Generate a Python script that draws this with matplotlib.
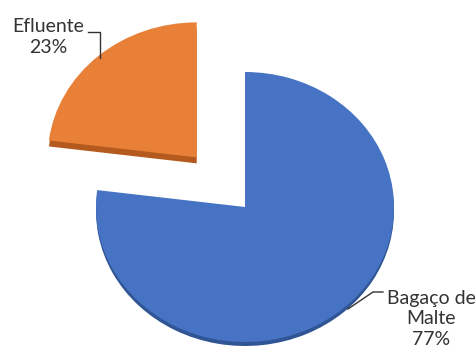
import matplotlib.pyplot as plt

# dados
labels = ['Efluente', 'Bagaço de\nMalte']
values = [23, 77]
colors = ['#E98038', '#4773C4']
side_colors = ['#B45A1E', '#2F5594']
explode = [0.49, 0.0]

# geometria (pixels da imagem original)
RX, RY = 149.0, 135.0
CX, CY = 245.0, 207.0
W, H = 477, 351


def px(x, y):
    # pixel -> coordenadas do eixo (pizza de raio 1)
    return (x - CX) / RX, (CY - y) / RY


fig = plt.figure(figsize=(W / 100, H / 100), dpi=100)
ax = fig.add_axes([0, 0, 1, 1])

# "espessura" 3D: copia escura deslocada para baixo (uma fatia por vez)
for i, d in enumerate([6, 4]):
    cols = ['none'] * len(values)
    cols[i] = side_colors[i]
    ax.pie(values, colors=cols, explode=explode, startangle=90,
           counterclock=True, radius=1, center=(0, -d / RY), frame=True,
           wedgeprops=dict(linewidth=0))
ax.pie(values, colors=colors, explode=explode, startangle=90,
       counterclock=True, radius=1, center=(0, 0), frame=True,
       wedgeprops=dict(linewidth=0))
ax.set_xlim(px(0, 0)[0], px(W, 0)[0])
ax.set_ylim(px(0, H)[1], px(0, 0)[1])
ax.set_aspect('auto')
ax.axis('off')

font = ['Lato', 'DejaVu Sans']
txt_pos = [(48, 37), (431, 319)]
for lab, v, (tx, ty) in zip(labels, values, txt_pos):
    ax.text(*px(tx, ty), f"{lab}\n{v}%", ha='center', va='center',
            fontsize=14, family=font, color='#333333', linespacing=1.25)

# linhas de chamada
lx, ly = zip(px(88, 32), px(100, 32), px(100, 58))
ax.plot(lx, ly, color='#333333', lw=1)
lx, ly = zip(px(348, 309), px(373, 292), px(383, 292))
ax.plot(lx, ly, color='#333333', lw=1)

fig.savefig('out.png', dpi=100)
